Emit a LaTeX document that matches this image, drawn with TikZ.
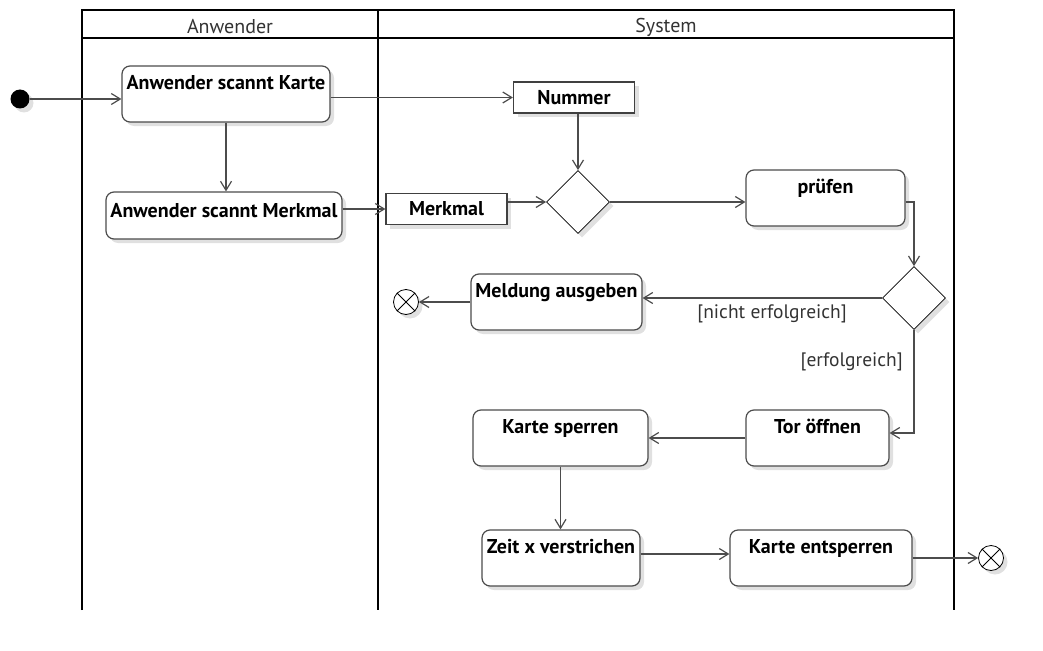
\documentclass[tikz,border=0pt]{standalone}
\usepackage{fontspec}
\setmainfont{PT Sans}
\usetikzlibrary{arrows.meta,shapes.geometric,shadows,calc}
\tikzset{
  shad/.style={drop shadow={shadow xshift=4pt, shadow yshift=-4pt, fill=black!12, opacity=1}},
  act/.style={draw=black!70, line width=1.2pt, rounded corners=8pt, fill=white, shad,
    font=\fontsize{20}{24}\selectfont\bfseries, inner xsep=0pt, inner ysep=0pt, align=center},
  objbox/.style={draw=black!75, line width=1.2pt, fill=white, shad,
    font=\fontsize{20}{24}\selectfont\bfseries, inner sep=0pt},
  decision/.style={diamond, aspect=1, draw=black, line width=0.8pt, fill=white, shad,
    minimum width=63pt, minimum height=63pt, inner sep=0pt},
  finalnode/.style={circle, draw=black, line width=0.8pt, fill=white, shad, minimum size=25pt, inner sep=0pt},
  initnode/.style={circle, fill=black, shad, minimum size=19pt, inner sep=0pt},
  flow/.style={draw=black!70, line width=1.2pt, -{Straight Barb[length=9pt,width=11pt]}},
  lane/.style={draw=black, line width=2pt},
  guard/.style={font=\fontsize{19.5}{23}\selectfont, text=black!80, inner sep=0pt},
  header/.style={font=\fontsize{20}{24}\selectfont, text=black!80, inner sep=0pt}
}
\begin{document}
\begin{tikzpicture}[x=1pt,y=-1pt]
\useasboundingbox (0,0) rectangle (1043,650);
% swimlanes
\draw[lane] (82,610) -- (82,10) -- (954,10) -- (954,610);
\draw[lane] (82,38) -- (954,38);
\draw[lane] (378,10) -- (378,610);
\node[header] (h1) at (230,27) {Anwender};
\node[header] (h2) at (666,27) {System};
% nodes
\node[initnode] (init) at (20,99) {};
\node[act, minimum width=208pt, text height=24pt, text depth=32pt] (a1) at (226,94) {Anwender scannt Karte};
\node[act, minimum width=236pt, text height=25pt, text depth=22pt] (a2) at (224,215.5) {Anwender scannt Merkmal};
\node[objbox, minimum width=121pt, minimum height=31pt] (num) at (574,97.5) {Nummer};
\node[objbox, minimum width=121pt, minimum height=31pt] (mk) at (446.5,209) {Merkmal};
\node[decision] (d1) at (578,202) {};
\node[act, minimum width=159pt, text height=23pt, text depth=33pt] (pr) at (825.5,198) {prüfen};
\node[decision] (d2) at (914,298) {};
\node[act, minimum width=171pt, text height=23pt, text depth=33pt] (ml) at (556.5,302) {Meldung ausgeben};
\node[finalnode] (e1) at (406,302) {};
\node[act, minimum width=143pt, text height=23pt, text depth=33pt] (tor) at (817.5,438) {Tor öffnen};
\node[act, minimum width=175pt, text height=23pt, text depth=33pt] (ks) at (560.5,438) {Karte sperren};
\node[act, minimum width=158pt, text height=23pt, text depth=33pt] (zt) at (561,558) {Zeit x verstrichen};
\node[act, minimum width=182pt, text height=23pt, text depth=33pt] (ke) at (821,558) {Karte entsperren};
\node[finalnode] (e2) at (991,558) {};
\foreach \e in {e1,e2}{
  \draw[black, line width=0.8pt] (\e.north west) -- (\e.south east);
  \draw[black, line width=0.8pt] (\e.north east) -- (\e.south west);
}
% guards
\node[guard, anchor=east] (g1) at (847,314) {[nicht erfolgreich]};
\node[guard, anchor=east] (g2) at (903,362) {[erfolgreich]};
% edges
\draw[flow] (init) -- (a1.west |- init);
\draw[flow] (a1.east |- num.west) -- (num.west);
\draw[flow] (a1.south) -- (a1.south |- a2.north);
\draw[flow] (a2.east |- mk.west) -- (mk.west);
\draw[flow] (mk.east |- d1.west) -- (d1.west);
\draw[flow] (num.south -| d1.north) -- (d1.north);
\draw[flow] (d1.east) -- (pr.west |- d1.east);
\draw[flow] (pr.east |- d1.east) -| (d2.north);
\draw[flow] (d2.west) -- (ml.east |- d2.west);
\draw[flow] (ml.west) -- (e1.east);
\draw[flow] (d2.south) |- ($(tor.east)+(0,-5)$);
\draw[flow] (tor.west) -- (ks.east);
\draw[flow] (ks.south) -- (ks.south |- zt.north);
\draw[flow] ($(zt.east)+(0,-4)$) -- ($(ke.west)+(0,-4)$);
\draw[flow] (ke.east) -- (e2.west);
\end{tikzpicture}
\end{document}
